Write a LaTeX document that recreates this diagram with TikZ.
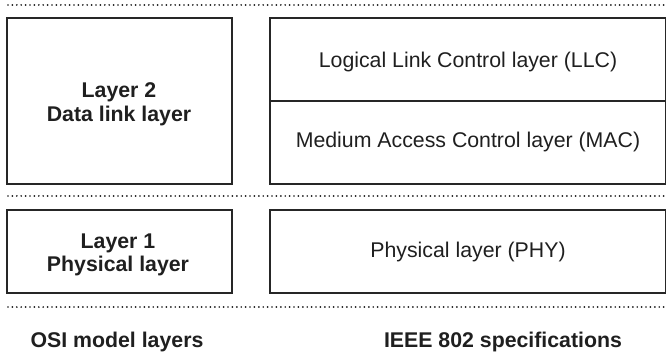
\documentclass[tikz,border=0pt]{standalone}
\usepackage{fontspec}
\setmainfont{Liberation Sans}
\begin{document}
\begin{tikzpicture}[x=1pt,y=-1pt,
  box/.style={draw=black!85, line width=1.1pt, rectangle, inner sep=0pt},
  txt/.style={text=black!88, font=\fontsize{21.3}{24}\selectfont, inner sep=0pt, anchor=base},
  btxt/.style={txt, font=\fontsize{21.3}{24}\selectfont\bfseries},
  sep/.style={line width=1.9pt, black!90, line cap=round, dash pattern=on 0pt off 4.4pt}]
\useasboundingbox (0,0) rectangle (666,355);
\draw[sep] (8,5) -- (666,5);
\draw[sep] (8,196) -- (666,196);
\draw[sep] (8,307) -- (666,307);
% boxes
\node[box, minimum width=225pt, minimum height=166pt] (l2) at (119.5,101) {};
\node[box, minimum width=396pt, minimum height=83pt] (llc) at (468,59.5) {};
\node[box, minimum width=396pt, minimum height=83pt] (mac) at (468,142.5) {};
\node[box, minimum width=225pt, minimum height=83pt] (l1) at (119.5,251.5) {};
\node[box, minimum width=396pt, minimum height=83pt] (phy) at (468,251.5) {};
% texts
\node[btxt] (l2a) at (119,98) {Layer 2};
\node[btxt] (l2b) at (119,122) {Data link layer};
\node[txt] (llct) at (468,68) {Logical Link Control layer (LLC)};
\node[txt] (mact) at (468,148) {Medium Access Control layer (MAC)};
\node[btxt] (l1a) at (118,248) {Layer 1};
\node[btxt] (l1b) at (118,272) {Physical layer};
\node[txt] (phyt) at (468,258) {Physical layer (PHY)};
\node[btxt] (osi) at (117,347) {OSI model layers};
\node[btxt] (ieee) at (503,347) {IEEE 802 specifications};
\end{tikzpicture}
\end{document}
